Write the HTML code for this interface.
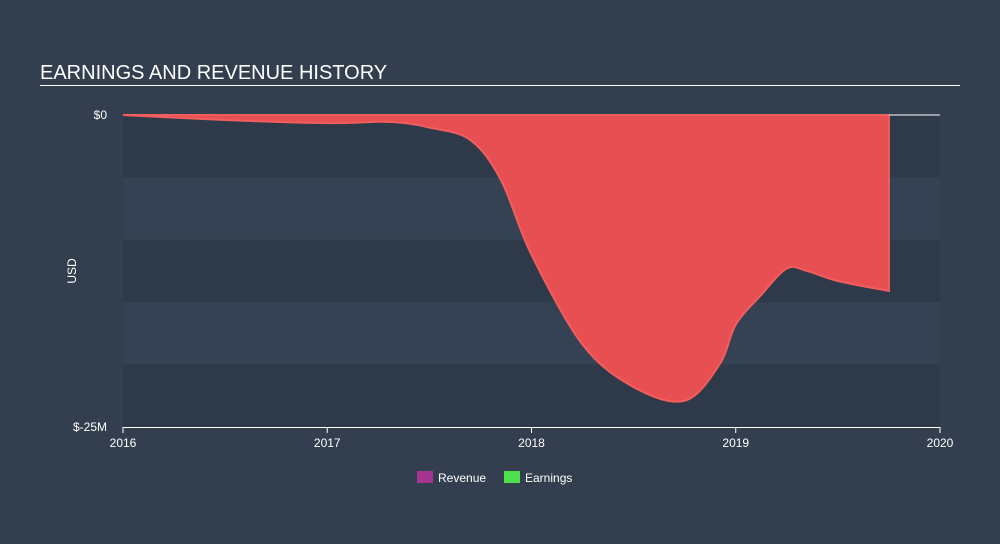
<!DOCTYPE html>
<html><head><meta charset="utf-8"><style>
body{margin:0;background:#333f4f;font-family:"Liberation Sans",sans-serif;}
svg{display:block}
</style></head><body>
<svg width="1000" height="544">
<rect width="1000" height="544" fill="#333f4f"/>
<text x="40" y="79" fill="#fff" font-size="20">EARNINGS AND REVENUE HISTORY</text>
<rect x="40" y="85" width="920" height="1" fill="#fff"/>
<g id="bands"></g>
<path id="area" fill="#e84f52" stroke="#f25d5d" stroke-width="2"/>
<line id="zero" stroke="#fff" stroke-width="1"/>
<g id="axes" font-size="12" fill="#fff"></g>
<text x="76" y="271" fill="#fff" font-size="12" text-anchor="middle" transform="rotate(-90 76 271)">USD</text>
<g>
<rect x="417" y="471" width="16" height="12" fill="#a6358f"/>
<text x="438" y="482" fill="#fff" font-size="12">Revenue</text>
<rect x="504" y="471" width="16" height="12" fill="#4ce04c"/>
<text x="525" y="482" fill="#fff" font-size="12">Earnings</text>
</g>
</svg>
<script>
const years=[2016,2016.5,2017,2017.3,2017.5,2017.7,2017.85,2018,2018.25,2018.5,2018.75,2018.92,2019,2019.12,2019.25,2019.35,2019.5,2019.75];
const earnings=[0,-0.4,-0.65,-0.55,-1.0,-2.0,-5.2,-11.2,-18.4,-21.8,-22.9,-20.0,-16.8,-14.5,-12.3,-12.5,-13.3,-14.1];
const xTicks=[2016,2017,2018,2019,2020];
const yTickVals=[0,-25];
const yTickLabels=["$0","$-25M"];
const X0=123,X1=940,Y0=115,Y1=427;
const x=v=>X0+(v-2016)/4*(X1-X0);
const y=v=>Y0+(0-v)/25*(Y1-Y0);
const ns="http://www.w3.org/2000/svg";
const bands=document.getElementById('bands');
for(let i=0;i<5;i++){const r=document.createElementNS(ns,'rect');
r.setAttribute('x',X0);r.setAttribute('y',Y0+i*(Y1-Y0)/5);r.setAttribute('width',X1-X0);r.setAttribute('height',(Y1-Y0)/5);
r.setAttribute('fill',i%2==0?'#2e3a4a':'#344253');


bands.appendChild(r);}
const pts=years.map((t,i)=>[x(t),y(earnings[i])]);
let d=`M${pts[0][0]},${pts[0][1]}`;
for(let i=0;i<pts.length-1;i++){const p0=pts[Math.max(0,i-1)],p1=pts[i],p2=pts[i+1],p3=pts[Math.min(pts.length-1,i+2)];
d+=` C${p1[0]+(p2[0]-p0[0])/6},${p1[1]+(p2[1]-p0[1])/6} ${p2[0]-(p3[0]-p1[0])/6},${p2[1]-(p3[1]-p1[1])/6} ${p2[0]},${p2[1]}`;}
const last=pts[pts.length-1];
d+=` L${last[0]},${y(0)} L${pts[0][0]},${y(0)} Z`;
document.getElementById('area').setAttribute('d',d);
const z=document.getElementById('zero');
z.setAttribute('x1',last[0]);z.setAttribute('x2',X1);z.setAttribute('y1',y(0));z.setAttribute('y2',y(0));
const ax=document.getElementById('axes');
const bl=document.createElementNS(ns,'line');
bl.setAttribute('x1',X0);bl.setAttribute('x2',X1);bl.setAttribute('y1',Y1+0.5);bl.setAttribute('y2',Y1+0.5);bl.setAttribute('stroke','#fff');


ax.appendChild(bl);
xTicks.forEach(t=>{const l=document.createElementNS(ns,'line');
l.setAttribute('x1',x(t));l.setAttribute('x2',x(t));l.setAttribute('y1',Y1);l.setAttribute('y2',Y1+6);l.setAttribute('stroke','#fff');


ax.appendChild(l);
const tx=document.createElementNS(ns,'text');tx.setAttribute('x',x(t));tx.setAttribute('y',Y1+20);tx.setAttribute('text-anchor','middle');tx.textContent=t;


ax.appendChild(tx);});
yTickVals.forEach((v,i)=>{const tx=document.createElementNS(ns,'text');tx.setAttribute('x',107);tx.setAttribute('y',y(v)+4);tx.setAttribute('text-anchor','end');tx.textContent=yTickLabels[i];


ax.appendChild(tx);});
</script>
</body></html>
